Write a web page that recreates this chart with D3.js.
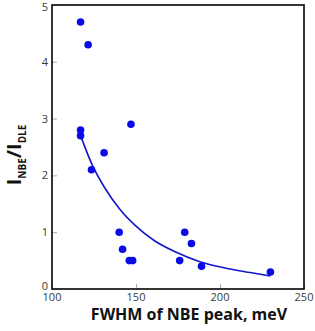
<!DOCTYPE html>
<html>
<head>
<meta charset="utf-8">
<script src="https://cdn.jsdelivr.net/npm/d3@7"></script>
<style>
  body { margin: 0; background: #fff; }
  svg { display: block; }
</style>
</head>
<body>
<div id="chart"></div>
<script>
const W = 315;
const H = 331;
const margin = { top: 5, right: 11, bottom: 42, left: 52 };

// measured points
const fwhm = [117, 121.5, 117, 117, 147, 131, 123.5, 140, 142, 146, 148, 179, 183, 176, 189, 230];
const ratio = [4.7, 4.3, 2.8, 2.7, 2.9, 2.4, 2.1, 1.0, 0.7, 0.5, 0.5, 1.0, 0.8, 0.5, 0.4, 0.3];

// fitted curve
const fitX = [117, 124, 131, 140.5, 149.5, 161, 173, 188, 203, 218, 230];
const fitY = [2.7, 2.18, 1.8, 1.4, 1.12, 0.85, 0.66, 0.48, 0.37, 0.29, 0.23];

const xTicks = [100, 150, 200, 250];
const yTicks = [0, 1, 2, 3, 4, 5];

const innerW = W - margin.left - margin.right;
const innerH = H - margin.top - margin.bottom;

const svg = d3.select("#chart")
  .append("svg")
  .attr("width", W)
  .attr("height", H);

const g = svg.append("g")
  .attr("transform", `translate(${margin.left},${margin.top})`);

const x = d3.scaleLinear().domain([100, 250]).range([0, innerW]);
const y = d3.scaleLinear().domain([0, 5]).range([innerH, 0]);

// inward ticks
const xAxis = d3.axisTop(x).tickValues(xTicks).tickSize(5).tickFormat("");
const yAxis = d3.axisRight(y).tickValues(yTicks).tickSize(5).tickFormat("");

g.append("g")
  .attr("transform", `translate(0,${innerH})`)
  .call(xAxis)
  .call(s => s.select(".domain").remove())
  .selectAll("line").attr("stroke", "#aaa");

g.append("g")
  .call(yAxis)
  .call(s => s.select(".domain").remove())
  .selectAll("line").attr("stroke", "#aaa");

// tick labels
const labelFont = "'Open Sans', sans-serif";
g.selectAll(".xlab")
  .data(xTicks)
  .enter()
  .append("text")
  .attr("x", d => x(d))
  .attr("y", innerH + 12)
  .attr("text-anchor", "middle")
  .style("font-family", labelFont)
  .style("font-size", "11px")
  .style("fill", "#3a3a3a")
  .text(d => d);

g.selectAll(".ylab")
  .data(yTicks)
  .enter()
  .append("text")
  .attr("x", -4)
  .attr("y", d => (d === 0 ? y(d) + 1 : d === 5 ? y(d) + 6 : y(d) + 4))
  .attr("text-anchor", "end")
  .style("font-family", labelFont)
  .style("font-size", "11px")
  .style("fill", "#3a3a3a")
  .text(d => d);

// frame
g.append("rect")
  .attr("x", 0)
  .attr("y", 0)
  .attr("width", innerW)
  .attr("height", innerH)
  .attr("fill", "none")
  .attr("stroke", "#111")
  .attr("stroke-width", 1.7);

// fit line
const line = d3.line()
  .x(d => x(d[0]))
  .y(d => y(d[1]))
  .curve(d3.curveMonotoneX);

g.append("path")
  .datum(fitX.map((v, i) => [v, fitY[i]]))
  .attr("d", line)
  .attr("fill", "none")
  .attr("stroke", "#1414c8")
  .attr("stroke-width", 1.6);

// points
g.selectAll("circle")
  .data(fwhm)
  .enter()
  .append("circle")
  .attr("cx", d => x(d))
  .attr("cy", (d, i) => y(ratio[i]))
  .attr("r", 3.8)
  .attr("fill", "#0a0ae6");

// x title
svg.append("text")
  .attr("x", 189)
  .attr("y", 320)
  .attr("text-anchor", "middle")
  .style("font-family", labelFont)
  .style("font-weight", "bold")
  .style("font-size", "16px")
  .style("fill", "#111")
  .text("FWHM of NBE peak, meV");

// y title
const yt = svg.append("text")
  .attr("transform", "translate(21,155) rotate(-90)")
  .attr("text-anchor", "middle")
  .style("font-family", labelFont)
  .style("font-weight", "bold")
  .style("fill", "#111");
yt.append("tspan").style("font-size", "20px").text("I");
yt.append("tspan").style("font-size", "10px").attr("dy", 5).text("NBE");
yt.append("tspan").style("font-size", "20px").attr("dy", -5).text("/I");
yt.append("tspan").style("font-size", "10px").attr("dy", 5).text("DLE");
</script>
</body>
</html>
